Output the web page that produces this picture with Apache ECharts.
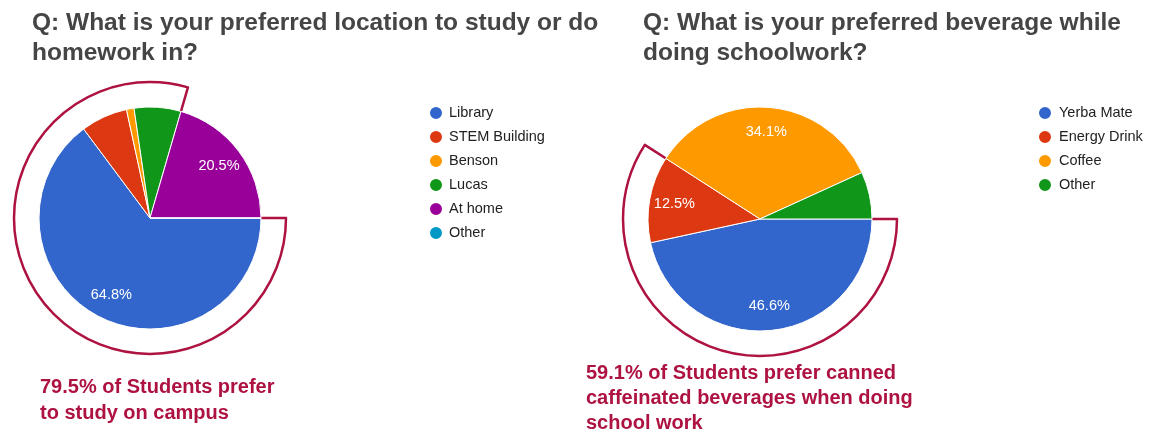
<!DOCTYPE html>
<html>
<head>
<meta charset="utf-8">
<script src="https://cdn.jsdelivr.net/npm/echarts@6/dist/echarts.min.js"></script>
<style>
  html, body { margin: 0; padding: 0; background: #fff; }
  #chart { width: 1154px; height: 432px; }
</style>
</head>
<body>
<div id="chart"></div>
<script>
// Survey results (percent of respondents)
const locationNames = ['Library', 'STEM Building', 'Benson', 'Lucas', 'At home', 'Other'];
const locationValues = [64.8, 6.8, 1.1, 6.8, 20.5, 0];
const locationColors = ['#3366cc', '#dc3912', '#ff9900', '#109618', '#990099', '#0099c6'];
const onCampus = ['Library', 'STEM Building', 'Benson', 'Lucas'];

const beverageNames = ['Yerba Mate', 'Energy Drink', 'Coffee', 'Other'];
const beverageValues = [46.6, 12.5, 34.1, 6.8];
const beverageColors = ['#3366cc', '#dc3912', '#ff9900', '#109618'];
const canned = ['Yerba Mate', 'Energy Drink'];

const titleLeft = 'Q: What is your preferred location to study or do\nhomework in?';
const titleRight = 'Q: What is your preferred beverage while\ndoing schoolwork?';
const noteLeft = '79.5% of Students prefer\nto study on campus';
const noteRight = '59.1% of Students prefer canned\ncaffeinated beverages when doing\nschool work';

const FONT = 'Arial, "Liberation Sans", sans-serif';
const NOTE_RED = '#ad1240';

const round1 = v => Math.round(v * 10) / 10;

function sliceData(names, values, colors) {
  return names.map((n, i) => ({ name: n, value: values[i], itemStyle: { color: colors[i] } }));
}

// Highlight ring around a group of slices: outlined sector + invisible remainder
function highlightRing(names, values, group, center, radius) {
  const inGroup = round1(names.reduce((s, n, i) => s + (group.includes(n) ? values[i] : 0), 0));
  const total = values.reduce((s, v) => s + v, 0);
  return {
    type: 'pie', silent: true, center, radius, startAngle: 0, clockwise: true,
    label: { show: false }, labelLine: { show: false }, emphasis: { disabled: true },
    legendHoverLink: false,
    data: [
      { name: '__in', value: inGroup,
        itemStyle: { color: 'rgba(0,0,0,0)', borderColor: NOTE_RED, borderWidth: 2.5 } },
      { name: '__out', value: round1(total - inGroup),
        itemStyle: { color: 'rgba(0,0,0,0)', borderWidth: 0 } }
    ]
  };
}

function mainPie(names, values, colors, center, r) {
  return {
    type: 'pie', center, radius: [0, r], startAngle: 0, clockwise: true,
    label: { show: false }, labelLine: { show: false }, emphasis: { disabled: true },
    itemStyle: { borderColor: '#fff', borderWidth: 1 },
    data: sliceData(names, values, colors)
  };
}

// Transparent twin used only to place the percentage text at ~3/4 of the radius
function labelPie(names, values, center, r) {
  return {
    type: 'pie', silent: true, center, radius: [r / 2, r], startAngle: 0, clockwise: true,
    labelLine: { show: false }, emphasis: { disabled: true }, legendHoverLink: false,
    itemStyle: { color: 'rgba(0,0,0,0)', borderWidth: 0 },
    label: {
      show: true, position: 'inside', color: '#fff', fontSize: 14.5, fontFamily: FONT,
      formatter: p => (p.value >= 10 ? p.value.toFixed(1) + '%' : '')
    },
    data: names.map((n, i) => ({ name: n, value: values[i] }))
  };
}

function legendData(names, colors) {
  return names.map((n, i) => ({ name: n, itemStyle: { color: colors[i] } }));
}

const leftCenter = [150, 218], leftR = 111;
const rightCenter = [760, 219], rightR = 112;

const titleStyle = { fontFamily: FONT, fontSize: 24.5, fontWeight: 'bold', color: '#454545', lineHeight: 30 };
const legendText = { fontFamily: FONT, fontSize: 14.5, color: '#222', lineHeight: 16 };

const chart = echarts.init(document.getElementById('chart'), null, { renderer: 'canvas' });
chart.setOption({
  backgroundColor: '#fff',
  animation: false,
  title: [
    { text: titleLeft, left: 32, top: 8, padding: 0, textStyle: titleStyle },
    { text: titleRight, left: 643, top: 8, padding: 0, textStyle: titleStyle },
    { text: noteLeft, left: 40, top: 374, padding: 0,
      textStyle: { fontFamily: FONT, fontSize: 20, fontWeight: 'bold', color: NOTE_RED, lineHeight: 26 } },
    { text: noteRight, left: 586, top: 361, padding: 0,
      textStyle: { fontFamily: FONT, fontSize: 20, fontWeight: 'bold', color: NOTE_RED, lineHeight: 25 } }
  ],
  legend: [
    { orient: 'vertical', left: 428, top: 105, icon: 'circle', itemWidth: 16, itemHeight: 14, itemGap: 8,
      selectedMode: false, padding: 0, textStyle: legendText,
      data: legendData(locationNames, locationColors) },
    { orient: 'vertical', left: 1037, top: 105, icon: 'circle', itemWidth: 18, itemHeight: 14, itemGap: 8,
      selectedMode: false, padding: 0, textStyle: legendText,
      data: legendData(beverageNames, beverageColors) }
  ],
  series: [
    highlightRing(locationNames, locationValues, onCampus, leftCenter, [leftR - 4, 136]),
    mainPie(locationNames, locationValues, locationColors, leftCenter, leftR),
    labelPie(locationNames, locationValues, leftCenter, leftR),
    highlightRing(beverageNames, beverageValues, canned, rightCenter, [rightR - 4, 137]),
    mainPie(beverageNames, beverageValues, beverageColors, rightCenter, rightR),
    labelPie(beverageNames, beverageValues, rightCenter, rightR)
  ]
});
</script>
</body>
</html>
